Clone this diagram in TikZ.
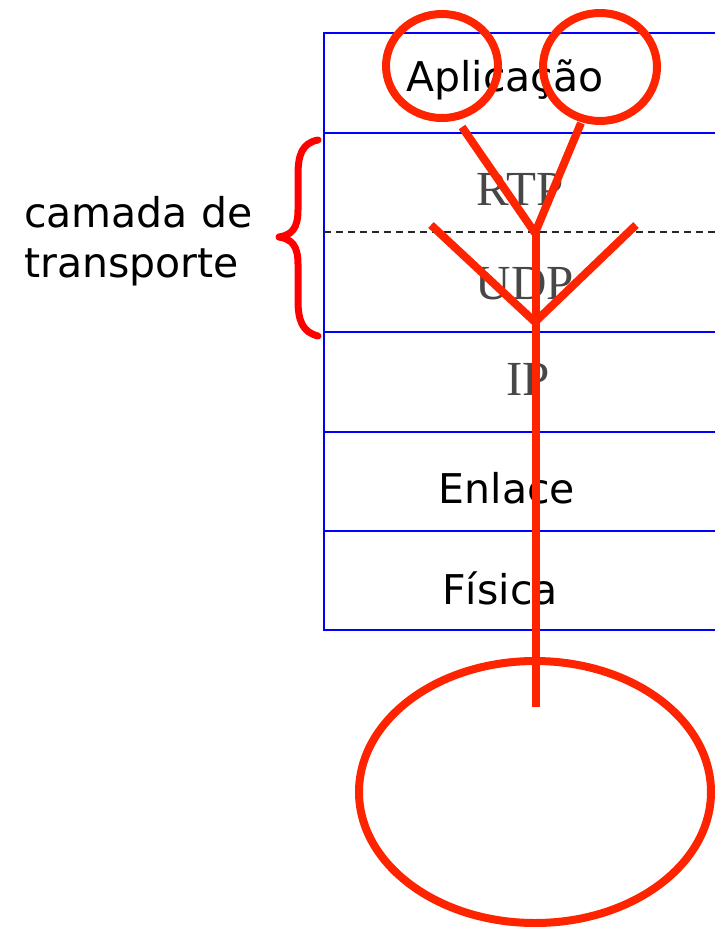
\documentclass[tikz,border=0pt]{standalone}
\usepackage{fontspec}
\setmainfont{DejaVu Sans}
\newfontfamily\seriffont{Liberation Serif}
\definecolor{markred}{RGB}{255,36,0}
\definecolor{tblue}{RGB}{0,0,255}
\begin{document}
\begin{tikzpicture}[x=1pt,y=-1pt,
  rowline/.style={tblue,line width=2pt},
  sanslabel/.style={font=\fontsize{41}{50}\selectfont,inner sep=0pt},
  seriflabel/.style={font=\seriffont\fontsize{49}{49}\selectfont,text=black!72,inner sep=0pt},
  redline/.style={draw=markred,line width=8pt},
  ring/.style={draw=markred,line width=8pt}]
\useasboundingbox (0,0) rectangle (715,927);
% table
\draw[rowline] (715,33) -- (324,33) -- (324,630) -- (715,630);
\foreach \yy in {133,332,432,531} \draw[rowline] (324,\yy) -- (715,\yy);
\draw[black!85,line width=1.6pt,dash pattern=on 7pt off 5pt] (324,232) -- (715,232);
% labels
\node[sanslabel] (app) at (505,80) {Aplicação};
\node[seriflabel] (rtp) at (520,189) {RTP};
\node[seriflabel] (udp) at (525,284) {UDP};
\node[seriflabel] (ip) at (528,379) {IP};
\node[sanslabel] (enl) at (507,488) {Enlace};
\node[sanslabel] (fis) at (500,588) {Física};
\node[sanslabel,align=left,anchor=base west] (cam) at (24,277) {camada de\\transporte};
% brace
\draw[red,line width=7pt,line cap=round,line join=round] (318,140) .. controls (302,143) and (298,155) .. (298,175) -- (298,210) .. controls (298,228) and (292,235) .. (279,237) .. controls (292,239) and (298,246) .. (298,264) -- (298,300) .. controls (298,320) and (302,332) .. (318,336);
% circles
\draw[ring] (442,66) ellipse [x radius=56,y radius=52];
\draw[ring] (600,67) ellipse [x radius=57,y radius=54];
\draw[ring] (535,792) ellipse [x radius=176,y radius=131];
% tree
\coordinate (la) at (462,127);
\coordinate (ra) at (581,123);
\coordinate (j1) at (535,233);
\coordinate (lb) at (431,225);
\coordinate (rb) at (636,225);
\coordinate (j2) at (535,322);
\coordinate (top) at (536,229);
\coordinate (bot) at (536,707);
\draw[redline] (la) -- (j1);
\draw[redline] (ra) -- (j1);
\draw[redline] (lb) -- (j2);
\draw[redline] (rb) -- (j2);
\draw[redline] (top) -- (bot);
\end{tikzpicture}
\end{document}
